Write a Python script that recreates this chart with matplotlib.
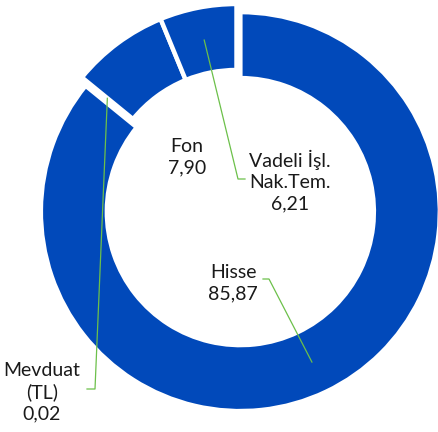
import numpy as np
import matplotlib
matplotlib.use("Agg")
import matplotlib.pyplot as plt

categories = ["Hisse", "Mevduat\n(TL)", "Fon", "Vadeli İşl.\nNak.Tem."]
values = [85.87, 0.02, 7.90, 6.21]
value_labels = ["85,87", "0,02", "7,90", "6,21"]

BLUE = "#0149BA"
GREEN = "#6CC04A"

W, H = 439, 432
fig = plt.figure(figsize=(W / 100, H / 100), dpi=100)
ax = fig.add_axes([0, 0, 1, 1])

CX, CY, R = 236.5, 203.5, 199.5  # pixel geometry of the pie


def px(x, y):
    return ((x - CX) / R, (CY - y) / R)


explode = [0.045, 0, 0, 0]
wedges, _ = ax.pie(values, startangle=90, counterclock=False, radius=1.0,
                   colors=[BLUE] * 4, explode=explode,
                   wedgeprops=dict(width=1 - 133.5 / R, edgecolor="white", linewidth=3.2))

ax.set_xlim(px(0, 0)[0], px(W, 0)[0])
ax.set_ylim(px(0, H)[1], px(0, 0)[1])
ax.set_aspect("auto")
ax.axis("off")

font = dict(family=["Lato", "DejaVu Sans"], fontsize=14, color="#1a1a1a",
            ha="center", va="center", linespacing=1.3)

# label positions (pixel centres)
label_pos = {0: (233, 283), 1: (42, 392), 2: (187, 157), 3: (290, 181)}
for i, (x, y) in label_pos.items():
    tx, ty = px(x, y)
    ax.text(tx, ty, f"{categories[i]}\n{value_labels[i]}", **font)

# leader lines: from label anchor to slice mid-angle
total = sum(values)
cum = np.cumsum([0] + values[:-1])
anchors = {0: [(263, 279), (269, 279)], 1: [(87, 389), (95, 389)], 3: [(245, 179), (238, 179)]}
for i, pts in anchors.items():
    mid = np.deg2rad(90 - 360 * (cum[i] + values[i] / 2) / total)
    r = 0.835 + explode[i]
    ex, ey = r * np.cos(mid), r * np.sin(mid)
    xs = [px(*p)[0] for p in pts] + [ex]
    ys = [px(*p)[1] for p in pts] + [ey]
    ax.plot(xs, ys, color=GREEN, lw=0.9)

fig.savefig("out.png", dpi=100)
